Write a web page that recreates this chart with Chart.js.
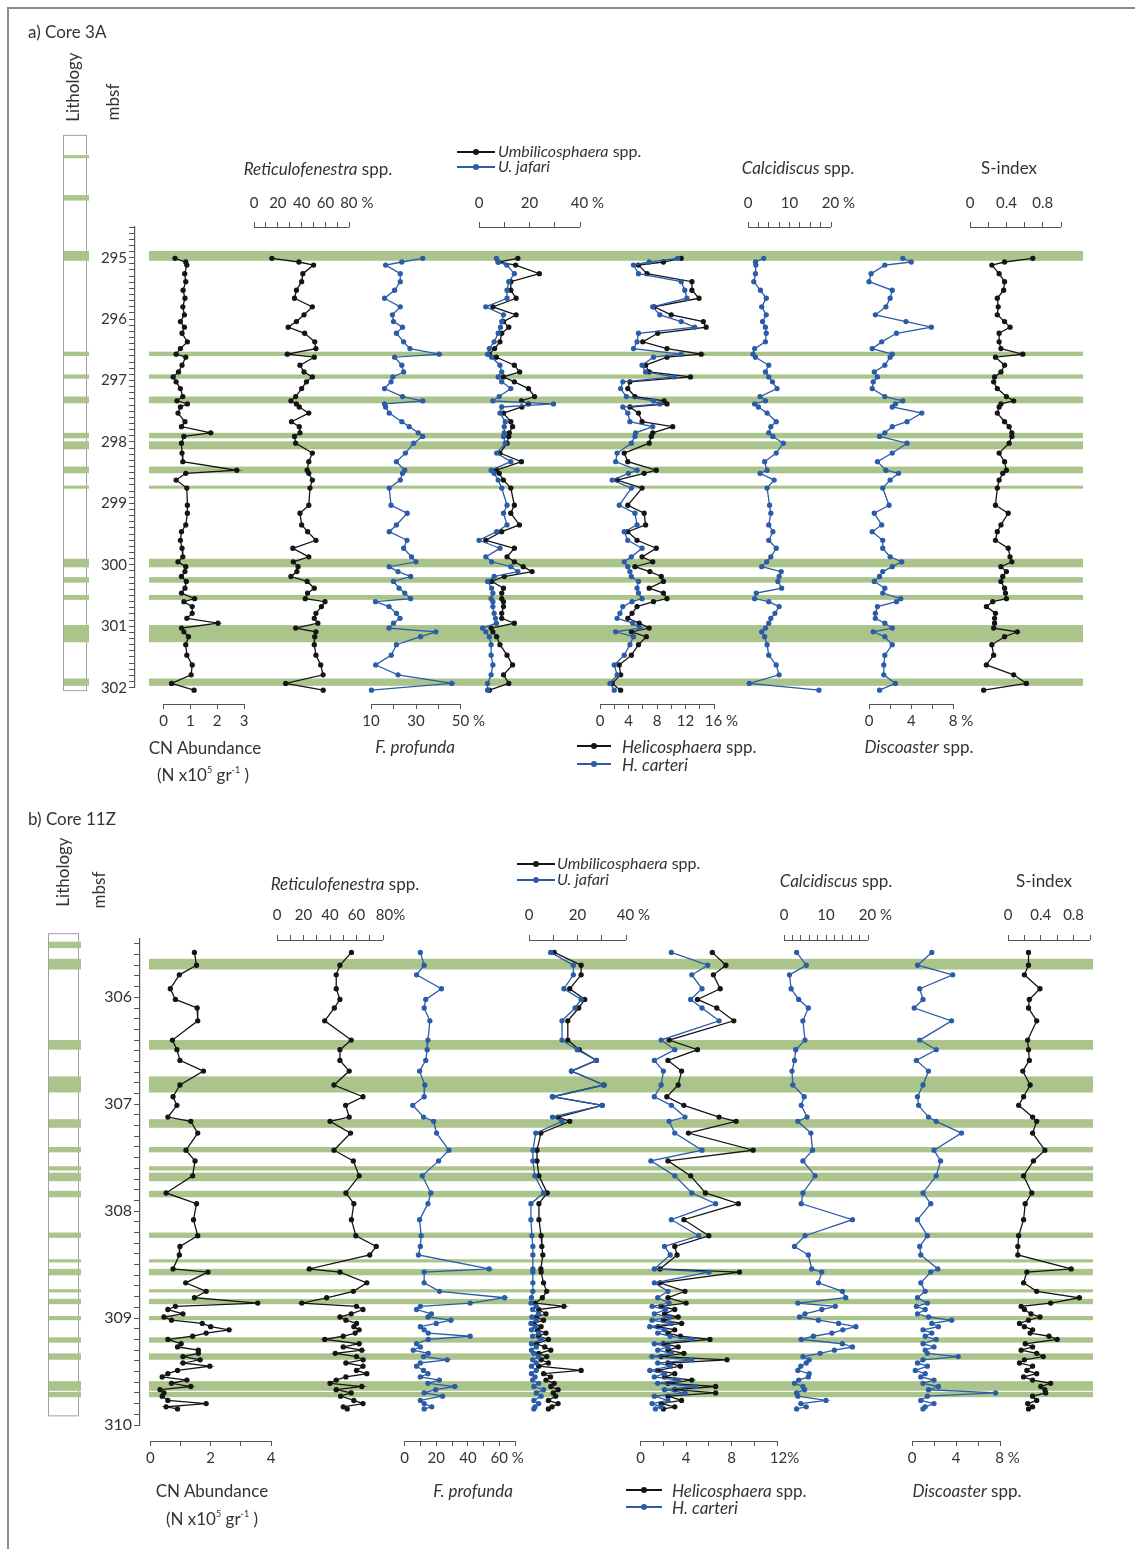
<!DOCTYPE html>
<html>
<head>
<meta charset="utf-8">
<script src="https://cdn.jsdelivr.net/npm/chart.js@4.4.1/dist/chart.umd.min.js"></script>
<style>
  body { margin: 0; background: #fff; font-family: Lato, 'Open Sans', sans-serif; color: #333; }
  #page { position: relative; width: 1135px; height: 1549px; overflow: hidden; }
  #frame { position: absolute; left: 7px; top: 7px; width: 1200px; height: 1600px; border-left: 2px solid #8c8c8c; border-top: 2px solid #8c8c8c; }
  canvas { position: absolute; left: 0; }
  .t { position: absolute; white-space: nowrap; font-size: 17px; line-height: 1; }
  .c { transform: translate(-50%, -50%); }
  .l { transform: translate(0, -50%); }
  .rot { transform: translate(-50%, -50%) rotate(-90deg); }
  .key { position: absolute; height: 0; border-top: 2px solid currentColor; transform: translateY(-1px); }
  .key::after { content: ''; position: absolute; left: 50%; top: -4px; width: 6px; height: 6px; margin-left: -3px; border-radius: 50%; background: currentColor; }
  sup { font-size: 9px; vertical-align: 8px; line-height: 0; }
</style>
</head>
<body>
<div id="page">
  <div id="frame"></div>
  <canvas id="coreA" width="1135" height="800" style="top:0"></canvas>
  <canvas id="coreB" width="1135" height="749" style="top:800px"></canvas>

  <!-- a) Core 3A -->
  <div class="t l" style="left:28px;top:31px">a) Core 3A</div>
  <div class="t rot" style="left:72px;top:87px">Lithology</div>
  <div class="t rot" style="left:112px;top:102px">mbsf</div>
  <div class="t c" style="left:318px;top:168px"><i>Reticulofenestra</i> spp.</div>
  <div class="key" style="left:457px;top:152px;width:38px;color:#151515"></div>
  <div class="t l" style="left:498px;top:151px;font-size:16px"><i>Umbilicosphaera</i> spp.</div>
  <div class="key" style="left:457px;top:167px;width:38px;color:#2b5ca8"></div>
  <div class="t l" style="left:498px;top:166px;font-size:16px"><i>U. jafari</i></div>
  <div class="t c" style="left:798px;top:167px"><i>Calcidiscus</i> spp.</div>
  <div class="t c" style="left:1009px;top:167px">S-index</div>
  <div class="t c" style="left:205px;top:747px">CN Abundance</div>
  <div class="t c" style="left:203px;top:774px">(N x10<sup>5</sup> gr<sup>-1</sup> )</div>
  <div class="t c" style="left:415px;top:746px"><i>F. profunda</i></div>
  <div class="key" style="left:577px;top:746px;width:34px;color:#151515"></div>
  <div class="t l" style="left:622px;top:746px"><i>Helicosphaera</i> spp.</div>
  <div class="key" style="left:577px;top:764px;width:34px;color:#2b5ca8"></div>
  <div class="t l" style="left:622px;top:764px"><i>H. carteri</i></div>
  <div class="t c" style="left:919px;top:746px"><i>Discoaster</i> spp.</div>

  <!-- b) Core 11Z -->
  <div class="t l" style="left:28px;top:818px">b) Core 11Z</div>
  <div class="t rot" style="left:62px;top:872px">Lithology</div>
  <div class="t rot" style="left:98px;top:890px">mbsf</div>
  <div class="t c" style="left:345px;top:883px"><i>Reticulofenestra</i> spp.</div>
  <div class="key" style="left:517px;top:864px;width:38px;color:#151515"></div>
  <div class="t l" style="left:557px;top:863px;font-size:16px"><i>Umbilicosphaera</i> spp.</div>
  <div class="key" style="left:517px;top:880px;width:38px;color:#2b5ca8"></div>
  <div class="t l" style="left:557px;top:879px;font-size:16px"><i>U. jafari</i></div>
  <div class="t c" style="left:836px;top:880px"><i>Calcidiscus</i> spp.</div>
  <div class="t c" style="left:1044px;top:880px">S-index</div>
  <div class="t c" style="left:212px;top:1490px">CN Abundance</div>
  <div class="t c" style="left:212px;top:1518px">(N x10<sup>5</sup> gr<sup>-1</sup> )</div>
  <div class="t c" style="left:473px;top:1490px"><i>F. profunda</i></div>
  <div class="key" style="left:626px;top:1490px;width:36px;color:#151515"></div>
  <div class="t l" style="left:672px;top:1490px"><i>Helicosphaera</i> spp.</div>
  <div class="key" style="left:626px;top:1507px;width:36px;color:#2b5ca8"></div>
  <div class="t l" style="left:672px;top:1507px"><i>H. carteri</i></div>
  <div class="t c" style="left:967px;top:1490px"><i>Discoaster</i> spp.</div>
</div>

<script>
// ---------- Core 3A (mbsf) ----------
var depthA = [295.01,295.07,295.12,295.26,295.39,295.53,295.66,295.80,295.93,296.04,
  296.13,296.23,296.37,296.48,296.57,296.62,296.75,296.86,296.94,297.02,
  297.13,297.26,297.33,297.38,297.43,297.53,297.67,297.75,297.85,297.91,
  298.02,298.18,298.32,298.46,298.51,298.62,298.75,299.03,299.16,299.35,
  299.46,299.60,299.73,299.87,299.95,300.03,300.11,300.19,300.27,300.38,
  300.46,300.55,300.60,300.68,300.79,300.87,300.95,301.03,301.09,301.17,
  301.30,301.47,301.63,301.79,301.93,302.04];
var cnA = [0.43,0.83,0.87,0.79,0.83,0.73,0.80,0.72,0.78,0.63,
  0.78,0.69,0.89,0.63,0.47,0.83,0.69,0.56,0.36,0.47,
  0.63,0.72,0.50,0.89,0.63,0.54,0.80,0.67,1.76,0.76,
  0.67,0.69,0.72,2.73,0.83,0.47,0.87,0.89,0.89,0.83,
  0.67,0.63,0.69,0.72,0.54,0.83,0.80,0.67,0.85,0.80,
  0.67,1.16,0.76,1.07,1.07,0.87,2.03,0.67,0.76,0.93,
  0.83,0.87,1.07,1.03,0.30,1.14];
var reticA = [15,37.7,50,41,40,35.6,34,49,42,35.6,
  28.7,42.5,51,52,28,50.6,38.6,42,49,44,
  40,35,31,35.6,38,46,31.5,38,38.6,34,
  35,49,46,44.6,46,49,47,46,38.6,40,
  45,52,32.6,46,33,37,36,31,44.6,50.6,
  45,43,59.6,56.6,52,50.6,53.6,35,52,51,
  50.6,52,56,58,26.6,58.1];
var fprofA = [33,23.7,16.5,23,23,20.5,16,23,19.5,20,
  24,21.3,24.5,27.3,40.3,20.5,23.7,24.5,19.7,18.9,
  16,24,33,16,16.5,18.1,23.7,27,31,33,
  29,25.3,21.3,25,24,23,18.1,18.9,26.1,21.3,
  18.1,26,24.5,28,30,18.1,22,27.6,20,22.5,
  25,27.6,12,18,21.3,22.9,20,18,38.8,32,
  21.3,19,12.1,22,45.9,10.2];
var umbA = [15.4,7.6,14.5,23.9,12.6,12.6,14.7,5.5,14.7,9.7,
  11.8,9.0,8.3,6.2,4.1,6.9,14.0,16.1,9.7,14.0,
  19.6,22.0,16.8,19.6,17,9.7,12.6,13.3,12,11.8,
  11.1,8.3,16.8,6.9,8,9.7,12.6,14,12.6,16,
  9,2.7,14,11.1,14,17.5,21,10,5,9.7,
  9,9,9.7,9.7,9,9,14,4.8,5.5,7,
  8.3,11.1,13.3,9.7,11.8,4.1];
var ujafA = [6.9,7.6,11,14,11.8,11.1,11.1,2.7,9.7,9,
  8.5,7.6,6,4.1,3.4,5,8.3,9,7.6,9,
  12.6,8,5.5,29.5,9,8.3,10.4,10,10,9.7,
  10.4,7,12.6,4.8,6,7.6,9,11.1,9.7,11.1,
  7,0,8.3,2.7,5,12.6,15.4,6,3.4,5,
  5.5,4.8,5.5,5.5,6,6.5,6.9,1.4,2.7,4.1,
  4.8,4.8,5.5,4.8,3.4,3.4];
var heliA = [11.4,8.9,5.4,6.6,12.9,12.9,13.9,7.6,10,14.5,
  14.9,8.1,6,9.4,14.2,9.4,6.4,6.9,12.7,4.2,
  3.9,4.9,9,9.4,4.2,5.4,5.9,10.2,7.4,7.2,
  6.9,3.4,3.9,7.9,6.2,2.4,5.9,3.9,6.2,6.4,
  3.9,5.2,7.9,5.9,7.4,4.9,7,8.6,8.9,6.9,
  8.9,9.4,7.5,5.2,4.5,3.9,5.5,6.9,4.4,6.5,
  5.4,4.4,2.7,2.9,1.7,2.9];
var hcartA = [10.9,6.9,4.7,5.4,11.4,11.9,12.2,7.4,8.4,11.4,
  13.3,5.4,5.2,4.7,11.4,7.5,5.9,6.4,10.4,3.2,
  2.9,3.7,7.5,8.4,3.2,3.9,4.2,7.4,5,4.9,
  4.4,2.4,2.2,5.2,4,1.7,4.4,2.7,4.9,5.2,
  3.4,3.9,5.9,4.4,3.4,3.9,4.2,4.4,5.4,5.2,
  5.4,5.9,4.5,3.2,2.8,2.4,4.6,5.6,2.2,4.7,
  4.2,3.4,2.0,2.4,1.4,2.0];
var calcA = [3.8,1.8,1.9,1.8,1.4,3.0,4.4,3.3,4.4,3.5,
  4.2,4.4,4.2,1.6,1.2,1.8,5.0,4.2,5.0,5.9,
  7.0,2.9,4.2,1.6,2.5,4.6,6.8,5.5,5.0,6,
  8.5,6.8,4.0,4.6,2.9,6.3,4.6,5.2,5.5,5.0,
  6.0,5.0,6.8,5.5,4.5,3.3,8,7.5,7.2,8.1,
  2.0,1.6,5,7.5,6.5,5.5,5.0,4.2,3.3,4.0,
  4.6,5.0,6.8,7.5,0.3,17.1];
var discA = [3.2,4.0,1.5,0.2,0,2.2,2.0,1.6,0.6,3.5,
  5.9,2.6,1.2,0.3,2.2,2.0,1.5,0.5,0.8,0.4,
  0.3,1.5,3.2,2.5,2.2,5.0,3.6,2.2,1.5,1.0,
  3.6,2.2,0.8,1.6,2.8,2.0,1.3,1.9,0.5,1.2,
  0.3,1.3,1.3,2.0,3.1,2.2,1.3,1.0,0.5,1.5,
  1.3,3.0,2.6,0.8,0.6,0.6,1.5,2.2,0.4,1.5,
  2.2,1.5,1.4,1.4,2.5,1.0];
var sindexA = [0.69,0.38,0.24,0.32,0.38,0.37,0.30,0.31,0.30,0.38,
  0.44,0.32,0.32,0.34,0.58,0.28,0.38,0.34,0.27,0.26,
  0.30,0.40,0.48,0.34,0.32,0.30,0.38,0.43,0.46,0.46,
  0.43,0.32,0.38,0.40,0.36,0.32,0.30,0.28,0.42,0.34,
  0.30,0.28,0.42,0.44,0.46,0.34,0.40,0.36,0.34,0.38,
  0.39,0.40,0.25,0.18,0.28,0.27,0.27,0.26,0.52,0.38,
  0.24,0.26,0.18,0.48,0.62,0.15];
// green (sapropel-like) layers, top / bottom depth
var bandsA = [[294.89,295.05],[296.53,296.60],[296.90,296.97],[297.26,297.37],[297.85,297.94],
  [297.99,298.12],[298.40,298.51],[298.71,298.76],[299.90,300.04],[300.20,300.29],
  [300.49,300.57],[300.98,301.26],[301.85,301.97]];
var lithoOnlyA = [[293.33,293.38],[293.98,294.07]];

// ---------- Core 11Z (mbsf) ----------
var depthB = [305.58,305.70,305.79,305.92,306.02,306.10,306.22,306.40,306.49,306.59,
  306.69,306.82,306.93,307.01,307.12,307.16,307.27,307.43,307.53,307.67,
  307.83,307.93,308.08,308.23,308.33,308.41,308.54,308.57,308.67,308.75,
  308.81,308.86,308.89,308.92,308.96,308.99,309.02,309.05,309.08,309.11,
  309.14,309.17,309.20,309.24,309.27,309.30,309.33,309.36,309.39,309.42,
  309.45,309.49,309.52,309.55,309.58,309.61,309.64,309.67,309.70,309.73,
  309.77,309.80,309.83,309.85];
var cnB = [1.46,1.53,0.96,0.66,0.83,1.55,1.57,0.73,0.88,0.98,
  1.76,0.98,0.75,0.88,0.58,1.34,1.57,1.18,1.48,1.40,
  0.52,1.53,1.43,1.57,0.98,0.96,0.75,1.91,1.17,1.85,
  1.46,3.56,0.83,0.58,1.08,0.45,0.70,1.72,2.0,2.61,
  1.85,1.40,0.58,1.02,0.90,1.59,1.59,1.08,1.65,1.08,
  1.97,0.90,0.58,0.39,1.21,0.70,1.34,0.32,0.45,0.39,
  0.58,1.85,0.52,0.90];
var reticB = [56.2,47.5,44.7,44.7,47.5,43.3,36,56,47.5,47.5,
  54.5,43,64.9,51.8,54.5,40,55.5,43,57.6,62,
  52,58,56.2,59.5,74.9,70,24.4,47.5,67.8,57.6,
  37.5,18.7,60,64.9,56,47.5,52,60,58,62,
  59,50,36,62,50,64,44,60,65,52,
  64.9,60,67.8,52,44.7,40,64,44.7,56,48,
  58,64.9,50,53];
var fprofB = [10,12.4,7.6,23.3,13.4,12.4,16,14.8,14.3,13.4,
  9.5,12.8,12.4,5.2,12,18.4,20.2,28,21.5,11.2,
  16.6,14.8,9.5,10.5,10,8.8,53.4,12.4,12.4,22.1,
  63.1,41.4,10,7.6,17,14.8,29.3,20,10,12.4,
  15,41.4,15,7.6,10,5.5,15,12,26.9,10,
  7.6,12,14.8,10,22,14.8,31.7,19.7,12.4,24,
  10,12.4,17.2,12.4];
var umbB = [10.4,21.5,21.5,16.8,23,20.5,16,16,20.7,27.8,
  17.5,30.9,9.7,30.2,12,16.8,4.9,3.3,3.3,4.1,
  7.5,4.1,4.1,5,5.3,5.7,4.9,5,6,7.3,
  5.5,2.5,14.4,4,7,3,6,2,5,3.5,
  7,4,8,3,6.5,9,4,7.3,5,8,
  4,21.5,6,8.9,7,10.4,9,12,10,11,
  8,12,9.5,8];
var ujafB = [8.9,18.3,18.3,14.4,21.5,19,13.6,13.6,19.9,27.8,
  17.5,30.9,9.7,30.2,9.7,13.6,2.8,1.6,1.6,2.4,
  6,0.8,0.8,1.2,1.6,1.6,1.6,1.6,1.6,1.6,
  1.0,0.8,3,1.5,4,1.2,3,0.8,2.5,1,
  4,1.5,5,1,3,1,2,4,1.5,3,
  1,3,1,2.5,1.5,4,2,6,3,5,
  2,4,2.5,2];
var heliB = [6.3,7.5,6.4,7.0,5.0,6.7,8.2,2.5,5.0,2.4,
  3.6,3.3,2.3,3.8,6.9,8.4,4.2,9.9,2.4,4.4,
  5.7,8.6,3.8,6.0,3.0,3.2,1.7,8.7,1.7,3.9,
  2.4,4.0,1.8,3,2.1,3.3,2.0,3.6,1.5,3,
  2.4,3.5,6.1,2,3.3,2.4,3.8,1.8,7.6,2.4,
  3.5,1.5,3,2.1,4.5,2.4,6.6,3.0,6.6,2.4,
  3.6,1.8,3,2.0];
var hcartB = [2.7,5.9,4.5,5.4,4.4,5.4,6.9,1.8,3.0,1.2,
  2.0,1.8,1.2,2.7,3.9,2.5,3.0,5.4,0.9,3.0,
  4.5,6.6,2.7,5.1,2.1,2.6,1.2,6.0,1.2,2.4,
  1.5,2.5,1.0,2.2,1.2,2.5,1.0,2.7,0.8,2.1,
  1.5,2.6,4.5,1.2,2.4,1.5,2.7,1.0,4.5,1.5,
  2.6,0.8,2.1,1.2,3.3,1.5,4.8,2.1,3.9,1.2,
  2.4,1.0,1.8,1.3];
var calcB = [3.0,5.3,1.3,1.7,3.5,5.8,4.5,5.0,2.8,2.5,
  1.9,2.1,4.8,4.1,5.5,3.3,6.4,6.8,4.5,7.4,
  4.5,4.1,16.3,5.0,2.5,5.8,6.6,9.0,8.2,13.9,
  14.7,3.3,12.2,9,5,3.7,8.2,13,17.1,14,
  11.4,7,4.1,13.9,16.3,12,8.6,4.5,6,5.3,
  4,3.3,6,5.8,3.5,2.5,4.5,4.9,3,3.3,
  10,4,5.3,3];
var discB = [1.8,0.5,3.7,0.7,1.0,0.2,3.6,0.7,2.2,0.4,
  1.5,1.0,0.5,0.6,1.5,2.2,4.5,2.0,2.6,2.2,
  1.0,1.7,0.5,1.4,0.7,0.8,2.35,1.7,0.8,1.2,
  0.5,1.4,0.4,1.2,0.5,1.5,3.6,1.8,2.4,1.0,
  1.8,1.2,2.2,1.0,2,1.2,1.4,4.2,1.0,0.5,
  1.4,0.3,1.2,0.8,2.0,1.0,2.4,1.5,7.6,1.4,
  0.8,2.0,1.2,1.0];
var sindexB = [0.25,0.25,0.20,0.39,0.26,0.25,0.35,0.24,0.25,0.26,
  0.18,0.27,0.19,0.13,0.30,0.35,0.30,0.45,0.31,0.19,
  0.29,0.21,0.19,0.13,0.12,0.12,0.77,0.23,0.19,0.35,
  0.87,0.52,0.16,0.2,0.28,0.39,0.25,0.14,0.2,0.3,
  0.27,0.5,0.6,0.21,0.3,0.16,0.35,0.43,0.2,0.14,
  0.3,0.23,0.35,0.19,0.3,0.52,0.4,0.45,0.46,0.3,
  0.35,0.24,0.3,0.25];
var bandsB = [[305.64,305.74],[306.40,306.49],[306.74,306.89],[307.14,307.22],[307.40,307.45],
  [307.58,307.62],[307.64,307.72],[307.81,307.87],[308.20,308.25],[308.45,308.48],
  [308.54,308.60],[308.73,308.76],[308.82,308.87],[308.98,309.02],[309.18,309.23],
  [309.33,309.39],[309.59,309.68],[309.69,309.74]];
var lithoOnlyB = [[305.48,305.54]];

// tick labels of the small axes
var cnTicksA = [0, 1, 2, 3], reticTicksA = [0, 20, 40, 60, 80], fprofTicksA = [10, 30, 50];
var umbTicksA = [0, 20, 40], heliTicksA = [0, 4, 8, 12, 16], calcTicksA = [0, 10, 20];
var discTicksA = [0, 4, 8], sTicksA = [0, 0.4, 0.8];
var cnTicksB = [0, 2, 4], reticTicksB = [0, 20, 40, 60, 80], fprofTicksB = [0, 20, 40, 60];
var umbTicksB = [0, 20, 40], heliTicksB = [0, 4, 8, 12], calcTicksB = [0, 10, 20];
var discTicksB = [0, 4, 8], sTicksB = [0, 0.4, 0.8];

var BLACK = '#151515', BLUE = '#2b5ca8', GREEN = '#abc48b', AXIS = '#555';
Chart.defaults.font.family = 'Lato';
Chart.defaults.color = '#333';

var stepTicks = (from, to, step) => {
    let out = [];
    for (let i = 0; from + i * step <= to + 1e-9; i++) {
        out.push({ value: +(from + i * step).toFixed(4) });
    }
    return out;
};

var line = (depths, vals, xId, color) => ({
    data: depths.map((d, i) => ({ x: vals[i], y: d })),
    xAxisID: xId,
    borderColor: color,
    backgroundColor: color,
    borderWidth: 1.3,
    pointRadius: 2,
    pointHoverRadius: 2,
    showLine: true,
    tension: 0,
    clip: false,
});

var depthAxis = (min, max, size) => ({
    type: 'linear', axis: 'y', position: 'left', reverse: true, min: min, max: max, bounds: 'data',
    afterFit: (s) => { s.width = 40; },
    afterBuildTicks: (s) => { s.ticks = stepTicks(Math.ceil(min * 10 - 1e-6) / 10, max, 0.1); },
    ticks: {
        autoSkip: false, padding: 2, font: { size: size }, color: '#333',
        callback: (v) => Math.abs(v - Math.round(v)) < 1e-6 ? String(Math.round(v)) : '',
    },
    grid: { drawOnChartArea: false, tickLength: 6, tickColor: AXIS },
    border: { color: AXIS, width: 1.2 },
});

// one short axis per curve, placed on the shared depth scale
var trackAxis = (t, L, R, at) => {
    let k = (t.px[1] - t.px[0]) / (t.range[1] - t.range[0]);
    let top = t.side === 'top';
    let last = t.labels[t.labels.length - 1];
    return {
        type: 'linear', axis: 'x', position: { y: at }, bounds: 'data',
        min: t.range[0] - (t.px[0] - L) / k,
        max: t.range[1] + (R - t.px[1]) / k,
        afterBuildTicks: (s) => { s.ticks = stepTicks(t.range[0], t.range[1], t.step); },
        ticks: {
            autoSkip: false, maxRotation: 0, minRotation: 0,
            padding: top ? -28 : 3, font: { size: 15 }, color: '#333',
            callback: (v) => {
                let hit = t.labels.find(l => Math.abs(l - v) < 1e-6);
                if (hit === undefined) return '';
                return (hit === last && t.unit) ? '\u2002\u2002' + hit + t.unit : String(hit);
            },
        },
        grid: { drawOnChartArea: false, drawTicks: true, tickLength: top ? -5 : 5, tickColor: AXIS },
        border: { display: false },
    };
};

var decor = (bands, lithoOnly, litho, inset, tracks, atTop, atBottom) => ({
    id: 'decor',
    beforeDatasetsDraw(chart) {
        let ctx = chart.ctx, a = chart.chartArea, y = chart.scales.y;
        ctx.save();
        // lithology column
        let t0 = y.getPixelForValue(litho.top), t1 = y.getPixelForValue(litho.bottom);
        ctx.fillStyle = '#fff';
        ctx.fillRect(litho.x0, t0, litho.x1 - litho.x0, t1 - t0);
        ctx.strokeStyle = '#a0a0a0';
        ctx.lineWidth = 1;
        ctx.strokeRect(litho.x0 + 0.5, t0 + 0.5, litho.x1 - litho.x0, t1 - t0);
        ctx.fillStyle = GREEN;
        bands.concat(lithoOnly).forEach((b) => {
            let p0 = y.getPixelForValue(b[0]), p1 = y.getPixelForValue(b[1]);
            ctx.fillRect(litho.x0 + 1, p0, litho.x2 - litho.x0 - 1, p1 - p0);
        });
        // layers across all curves
        bands.forEach((b) => {
            let p0 = y.getPixelForValue(b[0]), p1 = y.getPixelForValue(b[1]);
            ctx.fillRect(a.left + inset, p0, a.right - a.left - inset, p1 - p0);
        });
        // short axis lines
        ctx.strokeStyle = AXIS;
        ctx.lineWidth = 1.2;
        tracks.forEach((t) => {
            let s = chart.scales[t.id];
            let py = Math.round(y.getPixelForValue(t.side === 'top' ? atTop : atBottom)) + 0.5;
            ctx.beginPath();
            ctx.moveTo(s.getPixelForValue(t.range[0]), py);
            ctx.lineTo(s.getPixelForValue(t.range[1]), py);
            ctx.stroke();
        });
        ctx.restore();
    },
});

var build = (canvasId, cfg) => {
    let scales = { y: depthAxis(cfg.min, cfg.max, cfg.ySize) };
    cfg.tracks.forEach((t) => {
        scales[t.id] = trackAxis(t, cfg.L, cfg.R, t.side === 'top' ? cfg.atTop : cfg.atBottom);
    });
    return new Chart(document.getElementById(canvasId).getContext('2d'), {
        type: 'scatter',
        data: { datasets: cfg.datasets },
        options: {
            responsive: false, animation: false, devicePixelRatio: 1, events: [],
            layout: { padding: cfg.padding },
            plugins: { legend: { display: false }, tooltip: { enabled: false } },
            scales: scales,
        },
        plugins: [decor(cfg.bands, cfg.lithoOnly, cfg.litho, cfg.inset, cfg.tracks, cfg.atTop, cfg.atBottom)],
    });
};

var tracksA = [
    { id: 'xCN', range: [0, 3], px: [163.5, 244], step: 1, labels: cnTicksA, unit: '', side: 'bottom' },
    { id: 'xRet', range: [0, 80], px: [254, 349.3], step: 10, labels: reticTicksA, unit: ' %', side: 'top' },
    { id: 'xFp', range: [10, 50], px: [371, 461], step: 10, labels: fprofTicksA, unit: ' %', side: 'bottom' },
    { id: 'xUmb', range: [0, 40], px: [479, 580], step: 10, labels: umbTicksA, unit: ' %', side: 'top' },
    { id: 'xHel', range: [0, 16], px: [600, 714], step: 2, labels: heliTicksA, unit: ' %', side: 'bottom' },
    { id: 'xCal', range: [0, 20], px: [748, 831], step: 2.5, labels: calcTicksA, unit: ' %', side: 'top' },
    { id: 'xDis', range: [0, 8], px: [869, 953.5], step: 2, labels: discTicksA, unit: ' %', side: 'bottom' },
    { id: 'xS', range: [0, 1], px: [970, 1061], step: 0.2, labels: sTicksA, unit: '', side: 'top' },
];
var tracksB = [
    { id: 'xCN', range: [0, 4], px: [150.4, 271], step: 1, labels: cnTicksB, unit: '', side: 'bottom' },
    { id: 'xRet', range: [0, 80], px: [277, 383], step: 10, labels: reticTicksB, unit: '%', side: 'top' },
    { id: 'xFp', range: [0, 70], px: [404.5, 515.5], step: 10, labels: fprofTicksB, unit: ' %', side: 'bottom' },
    { id: 'xUmb', range: [0, 40], px: [529, 626], step: 10, labels: umbTicksB, unit: ' %', side: 'top' },
    { id: 'xHel', range: [0, 12], px: [640.7, 777], step: 2, labels: heliTicksB, unit: '%', side: 'bottom' },
    { id: 'xCal', range: [0, 20], px: [784, 868], step: 2, labels: calcTicksB, unit: ' %', side: 'top' },
    { id: 'xDis', range: [0, 8], px: [912, 1000], step: 2, labels: discTicksB, unit: ' %', side: 'bottom' },
    { id: 'xS', range: [0, 1], px: [1008, 1090], step: 0.2, labels: sTicksB, unit: '', side: 'top' },
];

var chartA = build('coreA', {
    min: 294.5, max: 302, ySize: 15, L: 135, R: 1083, atTop: 294.5, atBottom: 302.27,
    padding: { left: 95, top: 227, right: 52, bottom: 112.3 },
    bands: bandsA, lithoOnly: lithoOnlyA, inset: 14,
    litho: { top: 293.0, bottom: 302.04, x0: 63, x1: 86, x2: 89 },
    tracks: tracksA,
    datasets: [
        line(depthA, cnA, 'xCN', BLACK),
        line(depthA, reticA, 'xRet', BLACK),
        line(depthA, fprofA, 'xFp', BLUE),
        line(depthA, ujafA, 'xUmb', BLUE),
        line(depthA, umbA, 'xUmb', BLACK),
        line(depthA, hcartA, 'xHel', BLUE),
        line(depthA, heliA, 'xHel', BLACK),
        line(depthA, calcA, 'xCal', BLUE),
        line(depthA, discA, 'xDis', BLUE),
        line(depthA, sindexA, 'xS', BLACK),
    ],
});

var chartB = build('coreB', {
    min: 305.45, max: 310, ySize: 16, L: 140, R: 1093, atTop: 305.46, atBottom: 310.15,
    padding: { left: 100, top: 138.5, right: 42, bottom: 124 },
    bands: bandsB, lithoOnly: lithoOnlyB, inset: 9,
    litho: { top: 305.4, bottom: 309.91, x0: 48, x1: 78, x2: 81 },
    tracks: tracksB,
    datasets: [
        line(depthB, cnB, 'xCN', BLACK),
        line(depthB, reticB, 'xRet', BLACK),
        line(depthB, fprofB, 'xFp', BLUE),
        line(depthB, ujafB, 'xUmb', BLUE),
        line(depthB, umbB, 'xUmb', BLACK),
        line(depthB, hcartB, 'xHel', BLUE),
        line(depthB, heliB, 'xHel', BLACK),
        line(depthB, calcB, 'xCal', BLUE),
        line(depthB, discB, 'xDis', BLUE),
        line(depthB, sindexB, 'xS', BLACK),
    ],
});
</script>
</body>
</html>
